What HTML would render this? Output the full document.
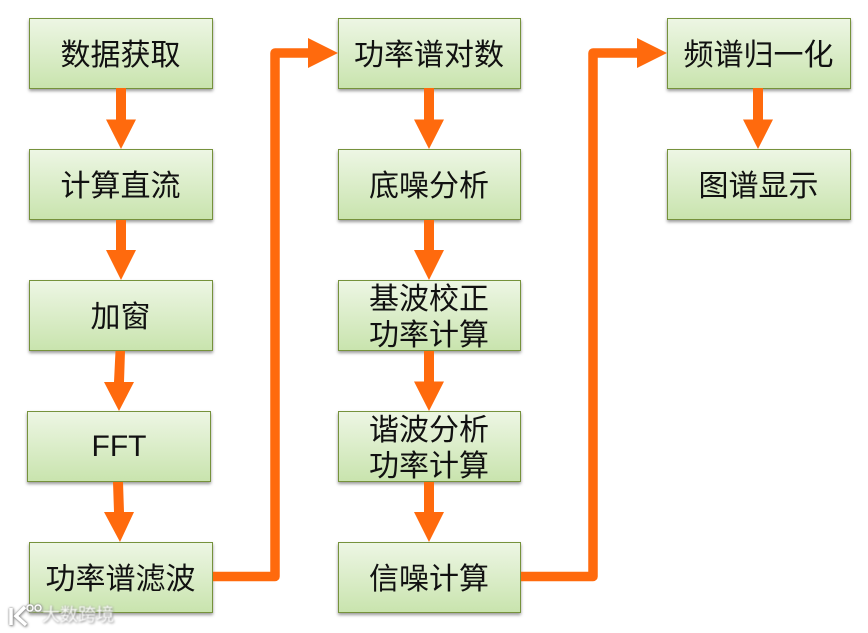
<!DOCTYPE html>
<html><head><meta charset="utf-8"><style>
html,body{margin:0;padding:0;background:#fff}
body{width:868px;height:633px;overflow:hidden;position:relative}
.b{position:absolute;box-sizing:border-box;height:71px;border:1px solid #76923c;background:linear-gradient(#edf6e4,#c9e4ae);box-shadow:0 2px 3px rgba(0,0,0,.4);display:flex;align-items:center;justify-content:center;text-align:center;font:30px/36px "Liberation Sans","Noto Sans CJK SC",sans-serif;color:#111;padding:4px 1px 0 0}
svg{position:absolute;left:0;top:0}
.w{position:absolute;left:42px;top:604px;font:18px/22px "Liberation Sans","Noto Sans CJK SC",sans-serif;color:#fff;text-shadow:1px 1px 2px #888,0 0 2px #aaa;opacity:.9;filter:blur(.4px)}
</style></head><body>
<div class="b" style="left:29px;top:18px;width:184px">数据获取</div>
<div class="b" style="left:29px;top:149px;width:184px">计算直流</div>
<div class="b" style="left:29px;top:280px;width:184px">加窗</div>
<div class="b" style="left:27px;top:411px;width:184px;padding:0">FFT</div>
<div class="b" style="left:29px;top:542px;width:184px">功率谱滤波</div>
<div class="b" style="left:338px;top:18px;width:183px">功率谱对数</div>
<div class="b" style="left:338px;top:149px;width:183px">底噪分析</div>
<div class="b" style="left:338px;top:280px;width:183px">基波校正<br>功率计算</div>
<div class="b" style="left:338px;top:411px;width:183px">谐波分析<br>功率计算</div>
<div class="b" style="left:338px;top:542px;width:183px">信噪计算</div>
<div class="b" style="left:667px;top:18px;width:184px">频谱归一化</div>
<div class="b" style="left:667px;top:149px;width:184px">图谱显示</div>
<svg width="868" height="633" viewBox="0 0 868 633">
<g fill="#ff6a0d">
<polygon points="116,88 126,88 126,119.500 136,119.500 121,149 106,119.500 116,119.500"/>
<polygon points="116,220 126,220 126,250 136,250 121,280 106,250 116,250"/>
<polygon points="115.500,351 125,351 124,382 134,382 119,411 104,382 114,382"/>
<polygon points="113,482 123,482 124,512 134,512 120,542 104,512 114,512"/>
<polygon points="424,88 434,88 434,119.500 444,119.500 429,149 414,119.500 424,119.500"/>
<polygon points="424,220 434,220 434,250 444,250 429,280 414,250 424,250"/>
<polygon points="424,351 434,351 434,381.500 444,381.500 429,411 414,381.500 424,381.500"/>
<polygon points="424,482 434,482 434,512 444,512 429,542 414,512 424,512"/>
<polygon points="753,88 763,88 763,119.500 773,119.500 758,149 743,119.500 753,119.500"/>
<polygon points="308,38 338,53 308,68"/>
<polygon points="637,38 667,53 637,68"/>
</g>
<g fill="none" stroke="#ff6a0d" stroke-width="9.500" stroke-linejoin="round">
<polyline points="213,576.500 275,576.500 275,53 310,53"/>
<polyline points="521,576.500 593,576.500 593,53 639,53"/>
</g>
</svg>
<div class="w">大数跨境</div>
<svg width="40" height="30" style="left:6px;top:602px;filter:drop-shadow(0 0 1px #777) drop-shadow(1px 1px 1px #aaa)"><g fill="none" stroke="#fff" stroke-width="3.500"><path d="M5 6V23"/><path d="M19 5L10 14L20 23"/><circle cx="24" cy="6" r="3" stroke-width="1.500"/><circle cx="32" cy="6" r="3" stroke-width="1.500"/></g></svg>
</body></html>
